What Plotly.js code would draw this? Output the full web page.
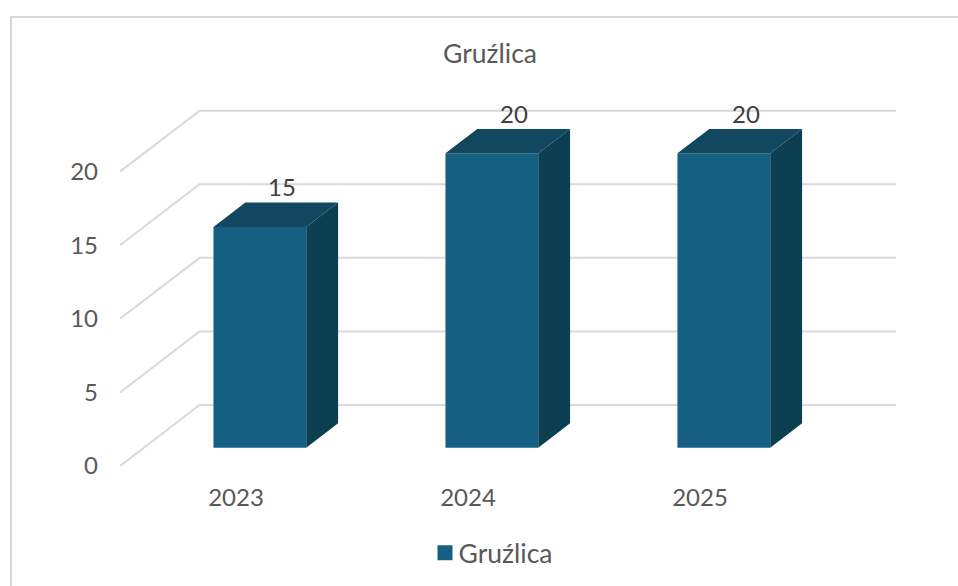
<!DOCTYPE html>
<html>
<head>
<meta charset="utf-8">
<script src="https://cdn.plot.ly/plotly-3.0.1.min.js"></script>
<style>
html,body{margin:0;padding:0;background:#fff;overflow:hidden}
#frame{position:absolute;left:10px;top:16px;width:948px;height:570px;border-top:2px solid #d9d9d9;border-left:2px solid #d9d9d9;box-sizing:border-box}
#chart{position:absolute;left:0;top:0;width:958px;height:586px}
</style>
</head>
<body>
<div id="frame"></div>
<div id="chart"></div>
<script>
// Data
const categories = [2023, 2024, 2025];
const values = [15, 20, 20];
const seriesName = 'Gruźlica';
const yTicks = [0, 5, 10, 15, 20];

// Oblique projection of the depth axis, in axis units
const depthX = 0.343, depthY = 4.14;
const barFront = 0.3, barBack = 0.7, barHalf = 0.2;
const labelDX = 0.198, labelDY = 3.73;
const xMax = 2025.845;
const px = (c, d) => c + d * depthX;
const py = (v, d) => v + d * depthY;

const gridShapes = yTicks.map(v => ({
  type: 'path', xref: 'x', yref: 'y', layer: 'below',
  path: `M${px(2022.5,0)},${py(v,0)} L${px(2022.5,1)},${py(v,1)} L${xMax},${py(v,1)}`,
  line: {color: '#d9d9d9', width: 2}
}));

const faceX = [], faceY = [], topX = [], topY = [];
categories.forEach((c, i) => {
  const v = values[i], l = c - barHalf, r = c + barHalf;
  faceX.push(px(r,barFront), px(r,barBack), px(r,barBack), px(r,barFront), px(r,barFront), null);
  faceY.push(py(0,barFront), py(0,barBack), py(v,barBack), py(v,barFront), py(0,barFront), null);
  topX.push(px(l,barFront), px(l,barBack), px(r,barBack), px(r,barFront), px(l,barFront), null);
  topY.push(py(v,barFront), py(v,barBack), py(v,barBack), py(v,barFront), py(v,barFront), null);
});

const traces = [
  {type:'bar', x:categories.map(c=>px(c,barFront)), y:values, base:py(0,barFront), width:barHalf*2,
   marker:{color:'#156082', line:{width:0}}, showlegend:false, hoverinfo:'skip'},
  {type:'scatter', mode:'lines', x:faceX, y:faceY, fill:'toself', fillcolor:'#0d3f52',
   line:{width:0}, showlegend:false, hoverinfo:'skip'},
  {type:'scatter', mode:'lines', x:topX, y:topY, fill:'toself', fillcolor:'#114860',
   line:{width:0}, showlegend:false, hoverinfo:'skip'},
  {type:'scatter', mode:'text', x:categories.map(c=>c+labelDX), y:values.map(v=>v+labelDY),
   text:values.map(String), textposition:'middle center',
   textfont:{family:'Lato', size:24, color:'#404040'}, showlegend:false, hoverinfo:'skip'},
  {type:'scatter', mode:'markers', x:[null], y:[null], name:seriesName,
   marker:{symbol:'square', size:15, color:'#156082'}, hoverinfo:'skip'}
];

const layout = {
  width:958, height:586,
  margin:{l:120, r:62, t:98, b:120, pad:0},
  paper_bgcolor:'rgba(0,0,0,0)', plot_bgcolor:'rgba(0,0,0,0)',
  font:{family:'Lato', color:'#595959', size:24},
  title:{text:seriesName, x:490/958, xanchor:'center', y:1-54/586, yanchor:'middle', xref:'container', yref:'container',
         font:{family:'Lato', size:26.5, color:'#595959'}},
  xaxis:{range:[2022.5, xMax], tickmode:'array', tickvals:categories, ticktext:categories.map(String),
         showgrid:false, zeroline:false, showline:false, ticks:'', ticklabelstandoff:15,
         tickfont:{family:'Lato', size:24, color:'#595959'}},
  yaxis:{range:[0, 25], tickmode:'array', tickvals:yTicks, ticktext:yTicks.map(String),
         showgrid:false, zeroline:false, showline:false, ticks:'', ticklabelstandoff:21,
         tickfont:{family:'Lato', size:24, color:'#595959'}},
  barmode:'overlay',
  shapes:gridShapes,
  showlegend:true,
  legend:{orientation:'h', xref:'container', yref:'container', x:488/958, xanchor:'center', y:1-553/586, yanchor:'middle',
          font:{family:'Lato', size:26.5, color:'#595959'}, bgcolor:'rgba(0,0,0,0)'}
};
Plotly.newPlot('chart', traces, layout, {displayModeBar:false, staticPlot:true}).then(gd => {
  const sym = gd.querySelector('.legend .legendsymbols');
  if (sym) sym.setAttribute('transform', 'translate(6.5,0)');
});
</script>
</body>
</html>
